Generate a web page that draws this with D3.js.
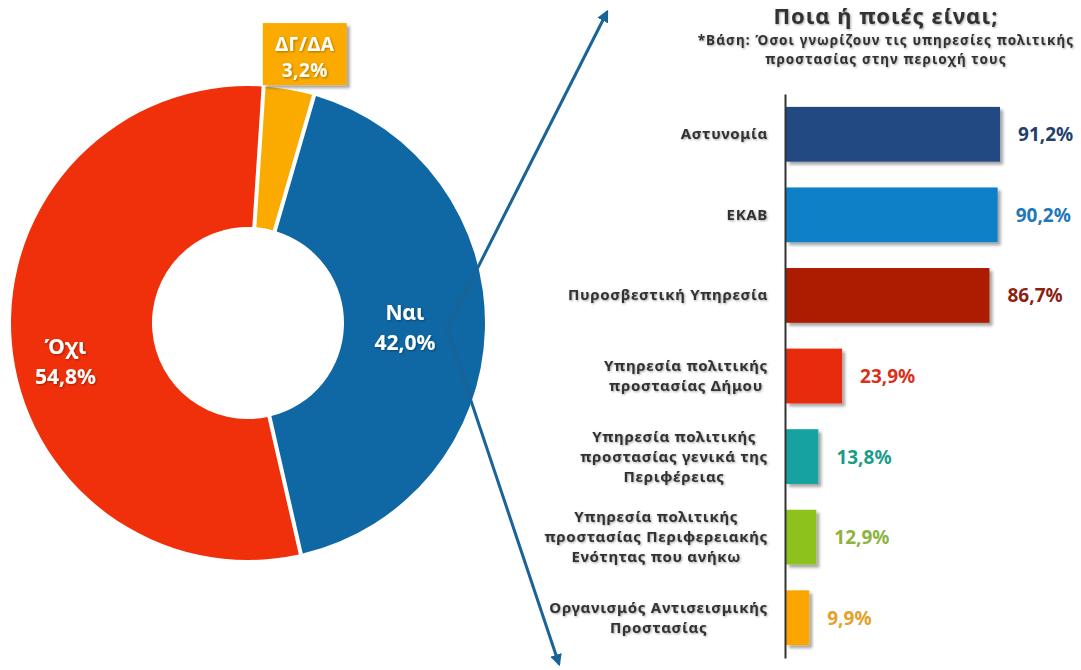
<!DOCTYPE html>
<html lang="el">
<head>
<meta charset="utf-8">
<title>Ποια ή ποιές είναι;</title>
<script src="https://cdn.jsdelivr.net/npm/d3@7/dist/d3.min.js"></script>
<style>
  body { margin: 0; background: #fff; }
  svg { display: block; font-family: "Noto Sans", "DejaVu Sans", sans-serif; font-weight: bold; }
</style>
</head>
<body>
<svg width="1081" height="670"></svg>
<script>
// Donut data
var pieLabels = ["ΔΓ/ΔΑ", "Ναι", "Όχι"];
var pieValues = [3.2, 42.0, 54.8];
var pieColors = ["#fbab00", "#0f67a3", "#f0300a"];

// Bar data
var barCategories = [
    ["Αστυνομία"],
    ["ΕΚΑΒ"],
    ["Πυροσβεστική Υπηρεσία"],
    ["Υπηρεσία πολιτικής", "προστασίας Δήμου"],
    ["Υπηρεσία πολιτικής", "προστασίας γενικά της", "Περιφέρειας"],
    ["Υπηρεσία πολιτικής", "προστασίας Περιφερειακής", "Ενότητας που ανήκω"],
    ["Οργανισμός Αντισεισμικής", "Προστασίας"]
];
var barValues = [91.2, 90.2, 86.7, 23.9, 13.8, 12.9, 9.9];
var barColors = ["#214a82", "#0a80c8", "#ad1d02", "#e82a0a", "#18a3a0", "#8dc21f", "#fba500"];
var valueColors = ["#233f6b", "#1f78b8", "#8c1e14", "#d9301a", "#1a9c8a", "#8cb43c", "#e3a128"];

var title = "Ποια ή ποιές είναι;";
var subtitle = ["*Βάση: Όσοι γνωρίζουν τις υπηρεσίες πολιτικής", "προστασίας στην περιοχή τους"];

function pct(v) { return v.toFixed(1).replace(".", ",") + "%"; }

var svg = d3.select("svg");

// filters
var defs = svg.append("defs");
defs.append("filter").attr("id", "shadow").attr("x", "-10%").attr("y", "-10%").attr("width", "130%").attr("height", "140%")
    .append("feDropShadow").attr("dx", 3).attr("dy", 3).attr("stdDeviation", 1.5)
    .attr("flood-color", "#000").attr("flood-opacity", 0.35);
defs.append("filter").attr("id", "tshadow")
    .append("feDropShadow").attr("dx", 1).attr("dy", 1).attr("stdDeviation", 0.8)
    .attr("flood-color", "#000").attr("flood-opacity", 0.35);
defs.append("marker").attr("id", "arrow")
    .attr("viewBox", "0 0 10 10").attr("refX", 8).attr("refY", 5)
    .attr("markerWidth", 4).attr("markerHeight", 4).attr("orient", "auto")
    .append("path").attr("d", "M0,0L10,5L0,10z").attr("fill", "#1a6396");

// ---------- Donut ----------
var cx = 248, cy = 323, rOuter = 237, rInner = 96;
var donut = svg.append("g").attr("transform", "translate(" + cx + "," + cy + ")");

var start = 0.066;
var pie = d3.pie().sort(null).value(function(d) { return d; })
    .startAngle(start).endAngle(start + 2 * Math.PI).padAngle(0.017);
var arc = d3.arc().innerRadius(rInner).outerRadius(rOuter).padRadius(rOuter);
var arcs = pie(pieValues);

donut.selectAll("path.slice")
    .data(arcs)
    .enter().append("path")
    .attr("class", "slice")
    .attr("d", arc)
    .attr("fill", function(d, i) { return pieColors[i]; });

// label nudges (layout only)
var labelArc = d3.arc().innerRadius(160).outerRadius(160);
var nudge = [[0, 0], [-3, 0], [-23, 26]];

// inside labels for Ναι / Όχι
arcs.forEach(function(d, i) {
    if (i === 0) return;
    var c = labelArc.centroid(d);
    var t = donut.append("text")
        .attr("text-anchor", "middle")
        .attr("fill", "#fff")
        .attr("font-size", 21)
        .attr("filter", "url(#tshadow)")
        .attr("transform", "translate(" + (c[0] + nudge[i][0]) + "," + (c[1] + nudge[i][1]) + ")");
    t.append("tspan").attr("x", 0).attr("y", -8).text(pieLabels[i]);
    t.append("tspan").attr("x", 0).attr("y", 22).text(pct(pieValues[i]));
});

// boxed label for ΔΓ/ΔΑ
var outerArc = d3.arc().innerRadius(270).outerRadius(270);
var oc = outerArc.centroid(arcs[0]);
var box = donut.append("g").attr("transform", "translate(" + (oc[0] + 10) + "," + (oc[1] - 3) + ")");
box.append("rect")
    .attr("x", -42).attr("y", -31).attr("width", 84).attr("height", 62)
    .attr("fill", pieColors[0]).attr("filter", "url(#shadow)");
var bt = box.append("text").attr("text-anchor", "middle").attr("fill", "#fff")
    .attr("font-size", 19).attr("letter-spacing", 0.5).attr("filter", "url(#tshadow)");
bt.append("tspan").attr("x", 0).attr("y", -3).text(pieLabels[0]);
bt.append("tspan").attr("x", 0).attr("y", 23).text(pct(pieValues[0]));

// callout lines from the Ναι slice
var origin = d3.arc().innerRadius(199).outerRadius(199).centroid(arcs[1]);
var ox = cx + origin[0], oy = cy + origin[1];
[[607, 12], [559, 664]].forEach(function(p) {
    svg.append("line")
        .attr("x1", ox).attr("y1", oy).attr("x2", p[0]).attr("y2", p[1])
        .attr("stroke", "#1a6396").attr("stroke-width", 3)
        .attr("marker-end", "url(#arrow)");
});

// ---------- Bar chart ----------
var x = d3.scaleLinear().domain([0, 100]).range([786, 786 + 234.7]);
var y = d3.scaleBand().domain(d3.range(barValues.length))
    .range([94, 658]).paddingInner(0.32).paddingOuter(0.16);

svg.append("g").selectAll("rect")
    .data(barValues)
    .enter().append("rect")
    .attr("x", x(0))
    .attr("y", function(d, i) { return y(i); })
    .attr("width", function(d) { return x(d) - x(0); })
    .attr("height", y.bandwidth())
    .attr("fill", function(d, i) { return barColors[i]; })
    .attr("filter", "url(#shadow)");

// axis line
svg.append("g")
    .attr("transform", "translate(" + (x(0) - 1) + ",0)")
    .call(d3.axisLeft(y).tickSize(0).tickSizeOuter(0).tickFormat(""))
    .call(function(g) { g.select(".domain").attr("stroke", "#333").attr("stroke-width", 2); });

// value labels
svg.append("g").selectAll("text")
    .data(barValues)
    .enter().append("text")
    .attr("x", function(d) { return x(d) + 18; })
    .attr("y", function(d, i) { return y(i) + y.bandwidth() / 2 + 7; })
    .attr("font-size", 19)
    .attr("fill", function(d, i) { return valueColors[i]; })
    .text(pct);

// category labels: centred block, right edge at 768
var catG = svg.append("g").attr("fill", "#333").attr("font-size", 15)
    .attr("letter-spacing", 0.7).attr("filter", "url(#tshadow)");
barCategories.forEach(function(lines, i) {
    var t = catG.append("text").attr("text-anchor", "middle");
    var mid = y(i) + y.bandwidth() / 2;
    var first = mid - (lines.length - 1) * 10 + 5;
    var spans = lines.map(function(s, j) {
        return t.append("tspan").attr("y", first + j * 20).text(s);
    });
    var w = d3.max(spans, function(s) { return s.node().getComputedTextLength(); });
    spans.forEach(function(s) { s.attr("x", 768 - w / 2); });
});

// title
var tt = svg.append("g").attr("text-anchor", "middle").attr("fill", "#333").attr("filter", "url(#tshadow)");
tt.append("text").attr("x", 886).attr("y", 24).attr("font-size", 22)
    .attr("letter-spacing", 1).text(title);
subtitle.forEach(function(s, i) {
    tt.append("text").attr("x", 886).attr("y", 45 + i * 18.5).attr("font-size", 13.5)
        .attr("letter-spacing", 1.1).text(s);
});
</script>
</body>
</html>
